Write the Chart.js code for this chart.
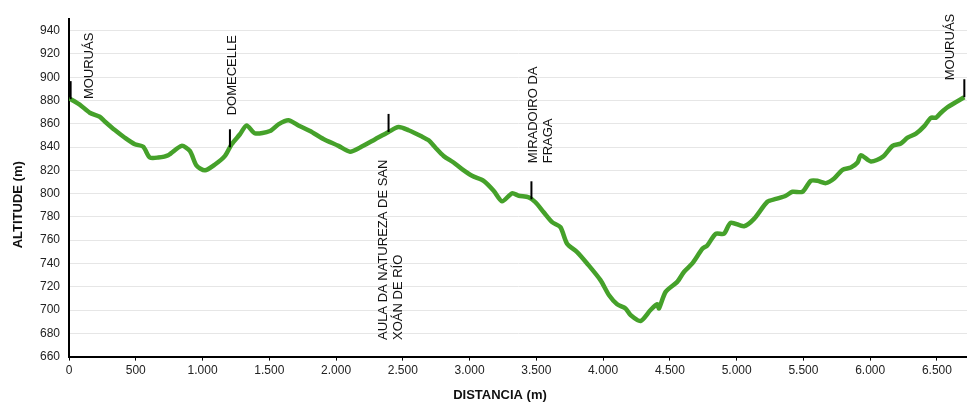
<!DOCTYPE html>
<html>
<head>
<meta charset="utf-8">
<script src="https://cdn.jsdelivr.net/npm/chart.js@4"></script>
<style>
  html, body { margin: 0; padding: 0; background: #fff; }
  #wrap { width: 967px; height: 403px; }
</style>
</head>
<body>
<div id="wrap"><canvas id="perfil"></canvas></div>
<script>
// distancia (m) e altitude (m) do perfil
const distancia = [0, 80, 155, 230, 268, 343, 418, 493, 555, 605, 668, 743, 843, 905, 955, 1018, 1093, 1168,
  1218, 1280, 1330, 1393, 1505, 1568, 1643, 1718, 1805, 1905, 2018, 2105, 2180, 2293, 2393, 2468, 2543,
  2643, 2693, 2743, 2805, 2880, 2943, 3018, 3105, 3180, 3243, 3318, 3368, 3443, 3493, 3555, 3618, 3680,
  3730, 3805, 3880, 3980, 4043, 4105, 4168, 4205, 4280, 4355, 4405, 4418, 4468, 4555, 4605, 4668, 4743,
  4780, 4843, 4905, 4955, 5055, 5130, 5230, 5293, 5368, 5418, 5493, 5555, 5605, 5668, 5730, 5793, 5855,
  5905, 5930, 6005, 6093, 6168, 6230, 6280, 6343, 6405, 6455, 6493, 6530, 6580, 6705];
const altitude = [882, 876.5, 869.5, 866, 862, 854.6, 848, 842.4, 840.4, 831, 831, 833, 841, 836.7, 824, 820, 825, 832.4,
  842.4, 851, 858.6, 851.8, 853.8, 859.5, 863, 858.6, 853.8, 847, 841, 836, 839.6, 846.7, 853, 857.2, 854.4,
  849, 845.8, 839.6, 832.4, 826.7, 821, 815.3, 811, 802.5, 793.4, 800.3, 798.2, 796.8, 792.6, 784, 775.5, 771.2,
  757, 749.8, 740, 725.7, 712.9, 705, 701.4, 695.7, 690.6, 700, 705, 701.4, 715.6, 724.2, 732.7, 740, 752.6,
  755.5, 765.5, 765.5, 774.9, 772, 778.3, 793, 795.4, 798.2, 801.6, 801.6, 811, 811, 809, 813, 820.4, 822.5,
  826.7, 833, 827.6, 831.5, 841, 843, 848, 851.5, 858, 865.2, 865.2, 869.5, 874.3, 882.8];

// puntos de interese
const lugares = ["MOURUÁS", "DOMECELLE", ["AULA DA NATUREZA DE SAN", "XOÁN DE RÍO"], ["MIRADOIRO DA", "FRAGA"], "MOURUÁS"];
const lugaresDist = [12, 1205, 2393, 3463, 6705];

// ticks
const yTicks = [660, 680, 700, 720, 740, 760, 780, 800, 820, 840, 860, 880, 900, 920, 940];
const xTicks = [0, 500, 1000, 1500, 2000, 2500, 3000, 3500, 4000, 4500, 5000, 5500, 6000, 6500];

const tituloX = "DISTANCIA (m)";
const tituloY = "ALTITUDE (m)";

// onde vai o texto de cada lugar (desprazamento en px desde o punto)
const etiquetaPos = [
  { dx: 19, dy: 0 },
  { dx: 2, dy: -32 },
  { dx: 2, dy: 208 },
  { dx: 9, dy: -36 },
  { dx: -14, dy: -17 }
];

const FONT = "'Liberation Sans', Arial, sans-serif";

function miles(v) {
  return String(v).replace(/\B(?=(\d{3})+(?!\d))/g, ".");
}

function altEn(d) {
  for (let i = 1; i < distancia.length; i++) {
    if (d <= distancia[i]) {
      const t = (d - distancia[i - 1]) / (distancia[i] - distancia[i - 1]);
      return altitude[i - 1] + t * (altitude[i] - altitude[i - 1]);
    }
  }
  return altitude[altitude.length - 1];
}

const lugaresPlugin = {
  id: "lugares",
  afterDatasetsDraw(chart) {
    const ctx = chart.ctx;
    const xs = chart.scales.x, ys = chart.scales.y;
    const area = chart.chartArea;
    ctx.save();
    ctx.font = "13px " + FONT;
    ctx.fillStyle = "#111";
    ctx.textBaseline = "middle";
    ctx.textAlign = "left";
    lugares.forEach((nome, i) => {
      const px = xs.getPixelForValue(lugaresDist[i]);
      const py = ys.getPixelForValue(altEn(lugaresDist[i]));
      ctx.strokeStyle = "#000";
      ctx.lineWidth = 2;
      ctx.beginPath();
      ctx.moveTo(px, py);
      ctx.lineTo(px, py - 18);
      ctx.stroke();

      const linhas = Array.isArray(nome) ? nome : [nome];
      const pos = etiquetaPos[i];
      ctx.save();
      ctx.translate(px + pos.dx, py + pos.dy);
      ctx.rotate(-Math.PI / 2);
      linhas.forEach((l, k) => {
        ctx.fillText(l, 0, (k - (linhas.length - 1) / 2) * 15);
      });
      ctx.restore();
    });

    // titulos dos eixos
    ctx.font = "bold 13px " + FONT;
    ctx.textAlign = "center";
    ctx.fillText(tituloX, (area.left + area.right) / 2 - 18, area.bottom + 39);
    ctx.save();
    ctx.translate(area.left - 51, (area.top + area.bottom) / 2 + 17);
    ctx.rotate(-Math.PI / 2);
    ctx.fillText(tituloY, 0, 0);
    ctx.restore();
    ctx.restore();
  }
};

const ctx = document.getElementById("perfil").getContext("2d");
const perfil = new Chart(ctx, {
  type: "line",
  data: {
    datasets: [{
      data: distancia.map((d, i) => ({ x: d, y: altitude[i] })),
      borderColor: "#45a12a",
      borderWidth: 4.5,
      pointRadius: 0,
      tension: 0.25,
      fill: false
    }]
  },
  options: {
    responsive: true,
    maintainAspectRatio: false,
    animation: false,
    layout: { padding: { top: 19, left: 31, right: 0, bottom: 22 } },
    plugins: {
      legend: { display: false },
      tooltip: { enabled: false }
    },
    scales: {
      x: {
        type: "linear",
        min: 0,
        max: 6725,
        afterBuildTicks: (s) => { s.ticks = xTicks.map(v => ({ value: v })); },
        ticks: {
          callback: (v) => miles(v),
          color: "#222",
          font: { family: FONT, size: 12 },
          maxRotation: 0,
          padding: 3
        },
        grid: { drawOnChartArea: false, drawTicks: true, tickLength: 4, color: "#000" },
        border: { color: "#000", width: 2 }
      },
      y: {
        min: 660,
        max: 950,
        afterBuildTicks: (s) => { s.ticks = yTicks.map(v => ({ value: v })); },
        ticks: {
          color: "#222",
          font: { family: FONT, size: 12 },
          padding: 9
        },
        grid: { color: "#e6e6e6", drawTicks: false, lineWidth: 1 },
        border: { color: "#000", width: 2 }
      }
    }
  },
  plugins: [lugaresPlugin]
});
</script>
</body>
</html>
